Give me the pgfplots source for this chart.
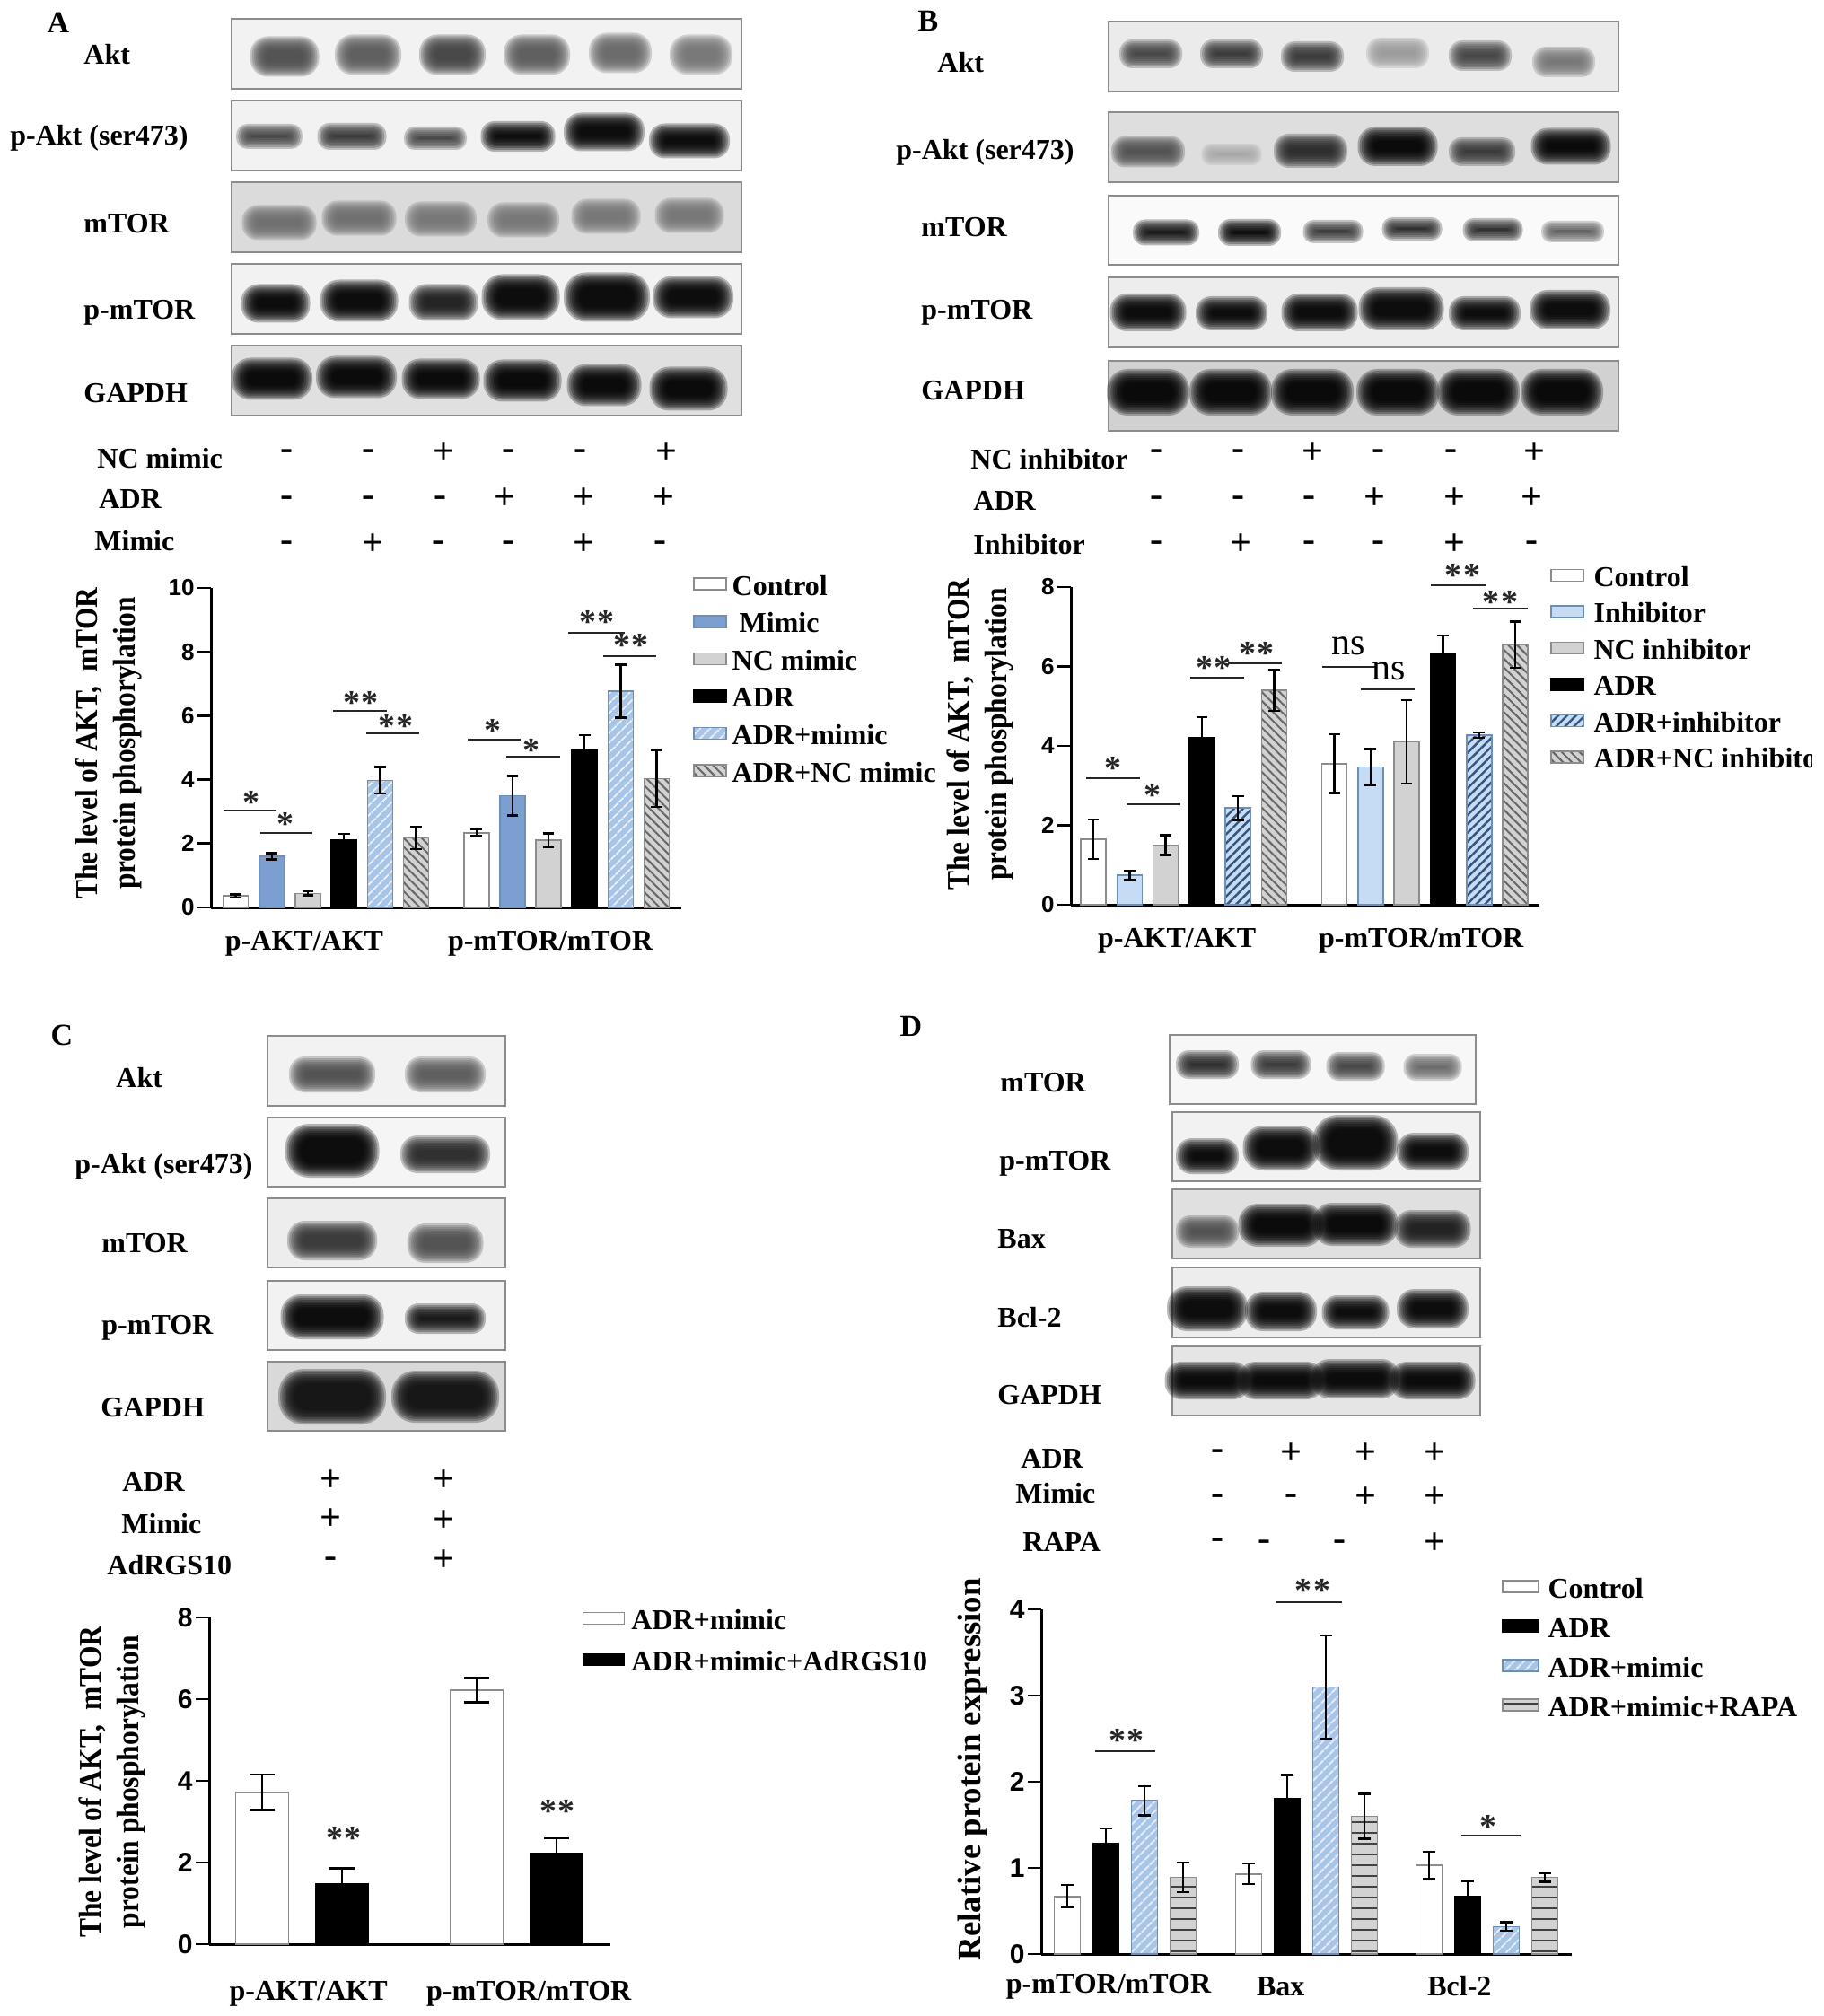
\documentclass[border=0pt]{standalone}
\usepackage{fontspec}
\setmainfont{Liberation Serif}
\newfontfamily\tickfont{Liberation Sans}
\usepackage{pgfplots}
\pgfplotsset{compat=1.18}
\usetikzlibrary{patterns.meta}
\definecolor{bluemim}{HTML}{7A9FD0}
\definecolor{bluemimd}{HTML}{6F8EB4}
\definecolor{bluehat}{HTML}{A8C4E6}
\definecolor{blueinh}{HTML}{C5DCF4}
\definecolor{navyhat}{HTML}{34547F}
\definecolor{greybar}{HTML}{D2D2D2}
\newcommand\band[5]{\colorlet{bandcore}{white!#5!black}%
 \foreach \k in {0,...,8}{\pgfmathsetmacro\W{#3/2+5-2.2*\k}\pgfmathsetmacro\H{max(#4/2+6-2*\k,1.5)}\pgfmathsetmacro\R{\H*0.45}%
 \fill[bandcore,opacity=.27,rounded corners=\R pt] (#1-\W,#2-\H) rectangle (#1+\W,#2+\H);}}
\newcommand\panel[5]{\filldraw[fill=white!#5!black,draw=black!45,line width=0.8pt] (#1,#2) rectangle (#3,#4);}
\newcommand\lab[3]{\node[anchor=base west,inner sep=0pt,font=\bfseries\fontsize{16}{18}\selectfont] at (#1,#2+11.5) {#3};}
\newcommand\sgn[3]{\node[inner sep=0pt,font=\bfseries\fontsize{21}{24}\selectfont] at (#1,#2+3) {#3};}
\newcommand\stars[3]{\node[inner sep=0pt,font=\bfseries\fontsize{19}{22}\selectfont,text=black!85] at (#1,#2+6) {#3};}
\newcommand\ds{*\kern1pt*}
\newcommand\sig[3]{\draw[line width=1.3pt,black!85] (#1,#3) -- (#2,#3);}
\tikzset{
 eb/.style={/pgfplots/error bars/y dir=both,/pgfplots/error bars/y explicit,
  /pgfplots/error bars/error bar style={line width=1.2pt,black,solid},
  /pgfplots/error bars/error mark options={rotate=90,mark size=#1,line width=1.2pt,black},/pgf/bar shift=0pt},
 eb/.default=3.5pt,
 sCtrl/.style={fill=white,draw=black!45,line width=0.8pt},
 sBlack/.style={fill=black,draw=black,line width=0.8pt},
 sMim/.style={fill=bluemim,draw=bluemimd,line width=0.8pt},
 sInh/.style={fill=blueinh,draw=bluemimd,line width=0.8pt},
 sGrey/.style={fill=greybar,draw=black!45,line width=0.8pt},
 sHatA/.style={fill=bluehat,draw=bluemimd,line width=0.8pt,postaction={pattern={Lines[angle=45,distance=4pt,line width=0.9pt]},pattern color=white!75!bluehat}},
 sHatB/.style={fill=blueinh,draw=bluemimd,line width=0.8pt,postaction={pattern={Lines[angle=45,distance=3.5pt,line width=1.2pt]},pattern color=navyhat}},
 sHatG/.style={fill=greybar,draw=black!45,line width=0.8pt,postaction={pattern={Lines[angle=-45,distance=3.5pt,line width=1pt]},pattern color=black!60}},
 sRapa/.style={fill=greybar,draw=black!45,line width=0.8pt,postaction={pattern={Lines[angle=0,distance=6pt,line width=1.1pt]},pattern color=black!75}},
}
\pgfplotsset{
 fig/.style={scale only axis,anchor=south west,ybar,axis lines=left,axis line style={-,line width=1.5pt},
  xtick style={draw=none},ytick style={line width=1.4pt,black},tick align=outside,major tick length=7.5pt,
  /pgf/number format/assume math mode=true,clip=false,
  yticklabel style={font=\tickfont\bfseries\fontsize{13}{15}\selectfont,inner sep=1.5pt},
  xticklabel style={font=\bfseries\fontsize{16}{18}\selectfont,anchor=center},
  ylabel style={align=center,anchor=center,rotate=0,font=\bfseries\fontsize{17.5}{21}\selectfont},
  legend cell align=left},
 lgd/.style n args={5}{legend style={at={(axis description cs:#1,#2)},anchor=north west,draw=none,fill=none,inner sep=0pt,outer sep=0pt,
   font=\bfseries\fontsize{16}{18}\selectfont,nodes={inner sep=0pt,text height=13.5pt,text depth=6.5pt},row sep=#4,
   /tikz/every odd column/.append style={column sep=#5}},
   legend image code/.code={\draw[##1] (0pt,-0.5pt) rectangle (#3,6pt);}},
}
\newcommand\twolab{\scalebox{.9}[1]{The level of AKT,\ \ mTOR}\\\scalebox{.9}[1]{protein phosphorylation}}
\begin{document}
\begin{tikzpicture}
\begin{scope}[x=0.5pt,y=-0.5pt]
% ---------- blots A
\panel{258}{21}{826}{99}{95}\panel{258}{112}{826}{190}{95}\panel{258}{203}{826}{281}{86}\panel{258}{294}{826}{372}{95}\panel{258}{385}{826}{463}{88}
\foreach \x/\y/\w/\h/\c in {317/63/67/33/30,410/61/64/33/35,504/61/64/33/25,598/61/64/33/35,691/59/60/33/40,781/61/60/33/45,
 300/152/64/16/25,392/152/67/18/20,485/154/60/14/25,577/152/73/22/0,673/147/80/31/0,768/157/80/27/0,
 311/248/73/27/42,400/243/73/27/42,491/244/70/27/45,583/245/70/27/45,675/241/67/27/45,768/240/67/27/45,
 307/338/67/31/0,400/335/77/35/0,494/337/67/29/10,580/331/77/39/0,676/331/86/43/0,772/331/80/35/0,
 303/422/80/35/0,397/420/80/35/0,491/422/77/33/0,582/424/77/35/0,673/429/73/35/0,767/433/77/37/0}
 {\band{\x}{\y}{\w}{\h}{\c}}
% ---------- blots B
\panel{1235}{24}{1803}{102}{92}\panel{1235}{125}{1803}{203}{87}\panel{1235}{218}{1803}{295}{98}\panel{1235}{309}{1803}{387}{93}\panel{1235}{402}{1803}{480}{82}
\foreach \x/\y/\w/\h/\c in {1282/60/60/20/25,1372/60/60/20/20,1462/63/60/22/20,1557/59/60/22/60,1649/62/60/22/25,1742/69/60/22/45,
 1279/169/72/23/30,1372/172/57/12/65,1460/168/72/26/15,1557/163/79/32/0,1651/169/64/20/20,1750/163/79/29/0,
 1299/259/64/17/5,1392/259/60/18/0,1485/258/57/14/20,1573/255/57/14/15,1663/256/57/14/15,1752/258/60/12/35,
 1279/348/75/30/0,1372/349/70/26/0,1470/348/75/30/0,1561/344/85/36/0,1654/349/70/26/0,1749/345/80/32/0,
 1279/437/82/40/0,1371/437/82/40/0,1462/437/82/40/0,1557/437/82/40/0,1647/437/82/40/0,1740/437/82/40/0}
 {\band{\x}{\y}{\w}{\h}{\c}}
% ---------- blots C
\panel{298}{1154}{563}{1232}{95}\panel{298}{1245}{563}{1322}{96}\panel{298}{1335}{563}{1412}{93}\panel{298}{1427}{563}{1504}{95}\panel{298}{1517}{563}{1594}{85}
\foreach \x/\y/\w/\h/\c in {370/1197/86/28/30,496/1197/80/28/35,
 370/1282/95/48/0,496/1286/90/30/15,
 370/1382/90/32/20,496/1385/75/32/30,
 370/1467/105/38/0,496/1469/80/22/5,
 370/1556/110/50/5,496/1556/110/46/5}
 {\band{\x}{\y}{\w}{\h}{\c}}
% ---------- blots D
\panel{1303}{1153}{1644}{1230}{97}\panel{1306}{1239}{1649}{1316}{95}\panel{1306}{1325}{1649}{1402}{88}\panel{1306}{1412}{1649}{1490}{93}\panel{1306}{1500}{1649}{1577}{90}
\foreach \x/\y/\w/\h/\c in {1345/1186/60/20/15,1427/1186/57/20/20,1510/1188/55/20/25,1596/1189/55/18/40,
 1345/1288/60/28/0,1427/1279/75/38/0,1510/1273/85/50/0,1596/1283/70/30/0,
 1345/1372/60/24/30,1427/1365/85/36/0,1510/1364/85/36/0,1596/1369/75/30/10,
 1345/1458/80/38/0,1427/1461/70/32/0,1510/1462/65/26/0,1596/1458/70/32/0,
 1345/1538/85/30/0,1427/1538/85/30/0,1510/1536/88/32/0,1596/1538/85/30/0}
 {\band{\x}{\y}{\w}{\h}{\c}}
% ---------- letters and blot labels
\node[font=\bfseries\fontsize{17}{20}\selectfont] at (65,25) {A};
\node[font=\bfseries\fontsize{17}{20}\selectfont] at (1034,23) {B};
\node[font=\bfseries\fontsize{17}{20}\selectfont] at (69,1153) {C};
\node[font=\bfseries\fontsize{17}{20}\selectfont] at (1015,1143) {D};
\lab{93}{60}{Akt}\lab{11}{150}{p-Akt (ser473)}\lab{93}{248}{mTOR}\lab{93}{344}{p-mTOR}\lab{93}{437}{GAPDH}
\lab{1044}{69}{Akt}\lab{998}{166}{p-Akt (ser473)}\lab{1026}{252}{mTOR}\lab{1026}{344}{p-mTOR}\lab{1026}{434}{GAPDH}
\lab{129}{1200}{Akt}\lab{83}{1296}{p-Akt (ser473)}\lab{113}{1384}{mTOR}\lab{113}{1475}{p-mTOR}\lab{112}{1567}{GAPDH}
\lab{1114}{1205}{mTOR}\lab{1113}{1292}{p-mTOR}\lab{1111}{1379}{Bax}\lab{1111}{1467}{Bcl-2}\lab{1111}{1553}{GAPDH}
% ---------- treatment rows
\lab{108}{510}{NC mimic}\lab{110}{555}{ADR}\lab{105}{602}{Mimic}
\sgn{319}{504}{-}\sgn{410}{504}{-}\sgn{494}{502}{+}\sgn{566}{504}{-}\sgn{646}{504}{-}\sgn{742}{502}{+}
\sgn{319}{556}{-}\sgn{410}{556}{-}\sgn{490}{556}{-}\sgn{562}{553}{+}\sgn{650}{553}{+}\sgn{739}{553}{+}
\sgn{319}{606}{-}\sgn{415}{604}{+}\sgn{488}{606}{-}\sgn{566}{606}{-}\sgn{650}{604}{+}\sgn{735}{606}{-}
\lab{1081}{511}{NC inhibitor}\lab{1084}{557}{ADR}\lab{1084}{606}{Inhibitor}
\sgn{1288}{504}{-}\sgn{1379}{504}{-}\sgn{1462}{502}{+}\sgn{1535}{504}{-}\sgn{1616}{504}{-}\sgn{1709}{502}{+}
\sgn{1288}{556}{-}\sgn{1379}{556}{-}\sgn{1458}{556}{-}\sgn{1531}{553}{+}\sgn{1620}{553}{+}\sgn{1706}{553}{+}
\sgn{1288}{606}{-}\sgn{1382}{604}{+}\sgn{1458}{606}{-}\sgn{1535}{606}{-}\sgn{1620}{604}{+}\sgn{1706}{606}{-}
\lab{136}{1650}{ADR}\lab{135}{1697}{Mimic}\lab{119}{1743}{AdRGS10}
\sgn{368}{1647}{+}\sgn{494}{1647}{+}\sgn{368}{1690}{+}\sgn{494}{1692}{+}\sgn{368}{1738}{-}\sgn{494}{1736}{+}
\lab{1137}{1624}{ADR}\lab{1131}{1663}{Mimic}\lab{1139}{1717}{RAPA}
\sgn{1356}{1618}{-}\sgn{1438}{1617}{+}\sgn{1521}{1617}{+}\sgn{1598}{1617}{+}
\sgn{1356}{1668}{-}\sgn{1438}{1668}{-}\sgn{1521}{1666}{+}\sgn{1598}{1666}{+}
\sgn{1356}{1717}{-}\sgn{1408}{1719}{-}\sgn{1492}{1719}{-}\sgn{1598}{1717}{+}
% ---------- significance A
\sig{249}{308}{903}\stars{280}{888}{*}\sig{290}{348}{928}\stars{318}{912}{*}
\sig{371}{431}{792}\stars{402}{777}{\ds}\sig{408}{467}{817}\stars{441}{803}{\ds}
\sig{521}{580}{824}\stars{549}{808}{*}\sig{564}{624}{843}\stars{592}{830}{*}
\sig{633}{696}{705}\stars{665}{687}{\ds}\sig{672}{731}{731}\stars{703}{713}{\ds}
% significance B
\sig{1210}{1270}{867}\stars{1240}{850}{*}\sig{1255}{1315}{896}\stars{1284}{880}{*}
\sig{1326}{1386}{755}\stars{1352}{738}{\ds}\sig{1368}{1428}{739}\stars{1400}{722}{\ds}
\sig{1473}{1533}{743}\node[font=\fontsize{21}{24}\selectfont] at (1502,720) {ns};
\sig{1516}{1576}{768}\node[font=\fontsize{21}{24}\selectfont] at (1547,748) {ns};
\sig{1594}{1655}{652}\stars{1629}{635}{\ds}\sig{1641}{1702}{678}\stars{1671}{665}{\ds}
% significance C, D
\stars{383}{2042}{\ds}\stars{621}{2012}{\ds}
\sig{1220}{1287}{1951}\stars{1255}{1933}{\ds}
\sig{1421}{1495}{1785}\stars{1462}{1766}{\ds}
\sig{1628}{1694}{2045}\stars{1658}{2029}{*}
\end{scope}

% ================= chart A
\begin{axis}[fig,at={(235*0.5pt,-1011*0.5pt)},width=262pt,height=178pt,bar width=14pt,
 xmin=-0.687,xmax=12.35,ymin=0,ymax=10,ytick={0,2,4,6,8,10},
 xtick={1.9,8.72},xticklabels={p-AKT/AKT,p-mTOR/mTOR},xticklabel style={yshift=-12.5pt},
 ylabel={\twolab},ylabel style={at={(axis description cs:-0.2176,0.514)}},
 lgd={1.025}{1.053}{18pt}{0.8pt}{3pt}]
\addplot[sCtrl,eb=3.2pt] coordinates {(0,0.36) +- (0,0.05) (6.67,2.34) +- (0,0.1)}; \addlegendentry{Control}
\addplot[sMim,eb=3.2pt] coordinates {(1,1.6) +- (0,0.1) (7.67,3.5) +- (0,0.62)}; \addlegendentry{\hspace{4pt}Mimic}
\addplot[sGrey,eb=3.2pt] coordinates {(2,0.44) +- (0,0.06) (8.67,2.1) +- (0,0.22)}; \addlegendentry{NC mimic}
\addplot[sBlack,eb=3.2pt] coordinates {(3,2.1) +- (0,0.2) (9.67,4.92) +- (0,0.48)}; \addlegendentry{ADR}
\addplot[sHatA,eb=3.2pt] coordinates {(4,3.98) +- (0,0.42) (10.67,6.77) +- (0,0.83)}; \addlegendentry{ADR+mimic}
\addplot[sHatG,eb=3.2pt] coordinates {(5,2.18) +- (0,0.35) (11.67,4.03) +- (0,0.89)}; \addlegendentry{ADR+NC mimic}
\end{axis}

% ================= chart B
\begin{axis}[fig,at={(1193*0.5pt,-1008*0.5pt)},width=261pt,height=177pt,bar width=14pt,
 xmin=-0.62,xmax=12.33,ymin=0,ymax=8,ytick={0,2,4,6,8},
 xtick={2.31,9.06},xticklabels={p-AKT/AKT,p-mTOR/mTOR},xticklabel style={yshift=-12.5pt},
 ylabel={\twolab},ylabel style={at={(axis description cs:-0.1935,0.537)}},
 lgd={1.023}{1.078}{18pt}{0.25pt}{5.5pt}]
\addplot[sCtrl,eb=3.2pt] coordinates {(0,1.65) +- (0,0.5) (6.66,3.55) +- (0,0.74)}; \addlegendentry{Control}
\addplot[sInh,eb=3.2pt] coordinates {(1,0.74) +- (0,0.12) (7.66,3.47) +- (0,0.45)}; \addlegendentry{Inhibitor}
\addplot[sGrey,eb=3.2pt] coordinates {(2,1.5) +- (0,0.25) (8.66,4.1) +- (0,1.05)}; \addlegendentry{NC inhibitor}
\addplot[sBlack,eb=3.2pt] coordinates {(3,4.2) +- (0,0.52) (9.66,6.3) +- (0,0.48)}; \addlegendentry{ADR}
\addplot[sHatB,eb=3.2pt] coordinates {(4,2.44) +- (0,0.3) (10.66,4.27) +- (0,0.07)}; \addlegendentry{ADR+inhibitor}
\addplot[sHatG,eb=3.2pt] coordinates {(5,5.4) +- (0,0.52) (11.66,6.55) +- (0,0.58)}; \addlegendentry{ADR+NC inhibitor}
\end{axis}

% ================= chart C
\begin{axis}[fig,at={(233*0.5pt,-2166*0.5pt)},width=223.5pt,height=182pt,bar width=29.5pt,
 xmin=-0.663,xmax=4.36,ymin=0,ymax=8,ytick={0,2,4,6,8},
 xtick={0.58,3.34},xticklabels={p-AKT/AKT,p-mTOR/mTOR},xticklabel style={yshift=-20.3pt},
 yticklabel style={font=\tickfont\bfseries\fontsize{15}{17}\selectfont},
 ylabel={\twolab},ylabel style={at={(axis description cs:-0.2416,0.497)}},
 lgd={0.93}{1.037}{23pt}{3pt}{3.5pt}]
\addplot[sCtrl,eb=7pt] coordinates {(0,3.72) +- (0,0.43) (2.685,6.22) +- (0,0.3)}; \addlegendentry{ADR+mimic}
\addplot[sBlack,eb=7pt] coordinates {(1,1.48) +- (0,0.38) (3.685,2.23) +- (0,0.37)}; \addlegendentry{ADR+mimic+AdRGS10}
\end{axis}

% ================= chart D
\begin{axis}[fig,at={(1160*0.5pt,-2177*0.5pt)},width=295.5pt,height=192pt,bar width=14.5pt,
 xmin=-0.674,xmax=13.07,ymin=0,ymax=4,ytick={0,1,2,3,4},
 xtick={1.07,5.53,10.16},xticklabels={p-mTOR/mTOR,Bax,Bcl-2},xticklabel style={yshift=-10.5pt},
 yticklabel style={font=\tickfont\bfseries\fontsize{15}{17}\selectfont},
 ylabel={Relative protein expression},ylabel style={font=\bfseries\fontsize{18.4}{22}\selectfont,at={(axis description cs:-0.130,0.536)}},
 lgd={0.868}{1.104}{20pt}{2pt}{5pt}]
\addplot[sCtrl,eb=3.5pt] coordinates {(0,0.67) +- (0,0.13) (4.7,0.93) +- (0,0.12) (9.37,1.03) +- (0,0.16)}; \addlegendentry{Control}
\addplot[sBlack,eb=3.5pt] coordinates {(1,1.28) +- (0,0.18) (5.7,1.8) +- (0,0.28) (10.37,0.67) +- (0,0.18)}; \addlegendentry{ADR}
\addplot[sHatA,eb=3.5pt] coordinates {(2,1.78) +- (0,0.17) (6.7,3.1) +- (0,0.6) (11.37,0.32) +- (0,0.05)}; \addlegendentry{ADR+mimic}
\addplot[sRapa,eb=3.5pt] coordinates {(3,0.89) +- (0,0.17) (7.7,1.6) +- (0,0.26) (12.37,0.89) +- (0,0.05)}; \addlegendentry{ADR+mimic+RAPA}
\end{axis}
\begin{scope}[x=0.5pt,y=-0.5pt]
\fill[white] (2019,800) rectangle (2040,900);
\end{scope}
\pgfresetboundingbox
\useasboundingbox (0,0) rectangle (1015.5pt,-1123pt);
\end{tikzpicture}
\end{document}
